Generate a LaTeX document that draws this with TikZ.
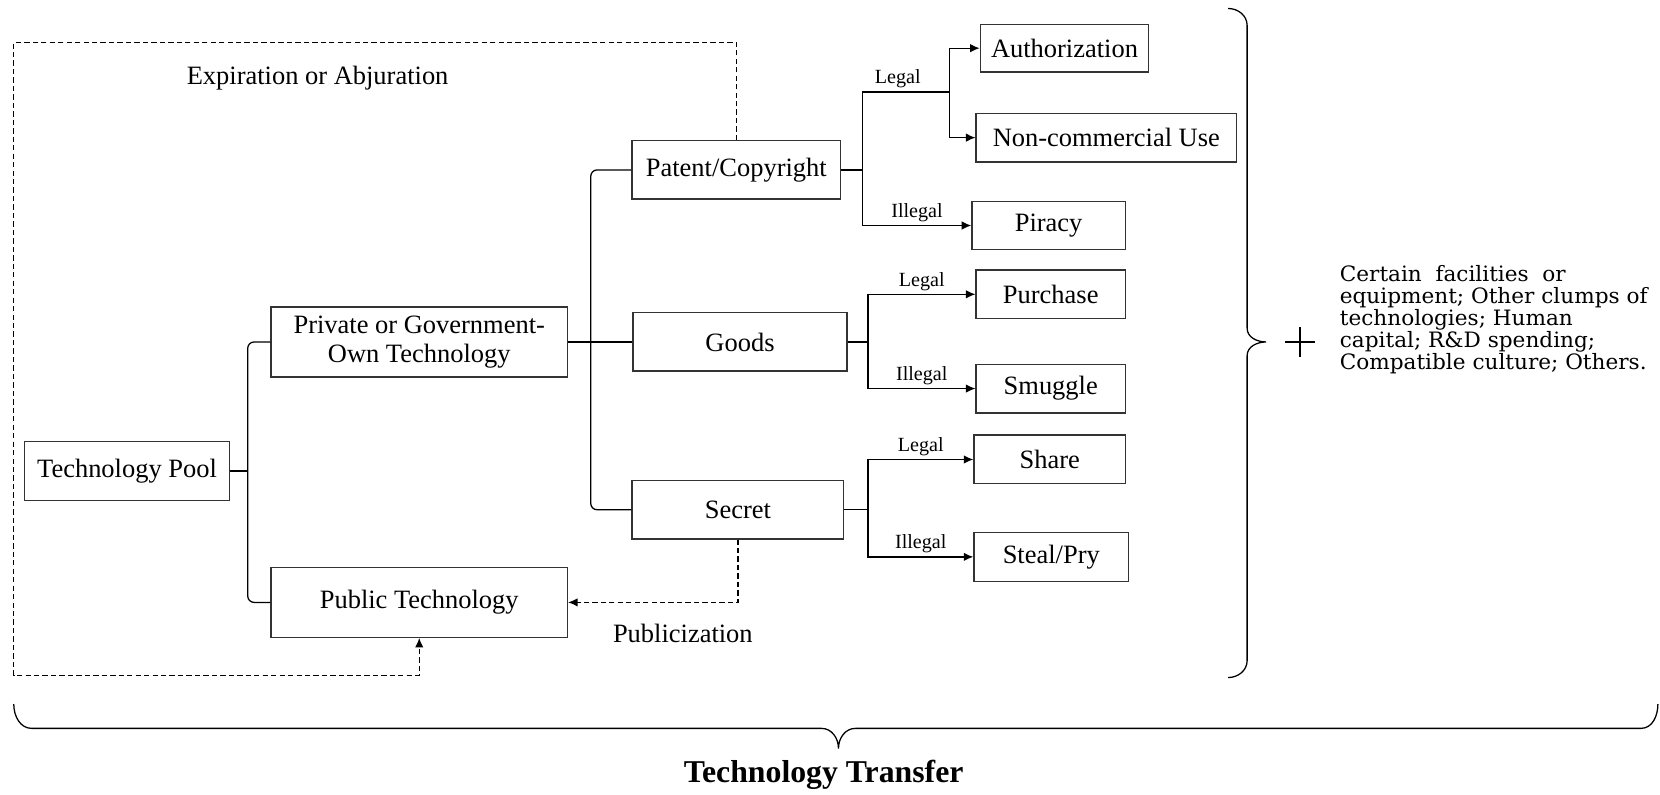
\documentclass[tikz,border=0pt]{standalone}
\usepackage{fontspec}
\setmainfont{Liberation Serif}
\newfontfamily\sidefont[FakeStretch=1.02]{DejaVu Serif}
\usetikzlibrary{arrows.meta}

\begin{document}
\begin{tikzpicture}[x=0.5pt,y=-0.5pt,>={Latex[length=4.5pt,width=4pt]},line width=0.6pt,
    box/.style={draw=black!80,inner sep=2pt,align=center,font=\fontsize{12.5}{14}\selectfont},
    big/.style={box,minimum height=27.5pt},
    small/.style={box,minimum height=23pt},
    lbl/.style={font=\fontsize{9.5}{11}\selectfont,inner sep=1.5pt},
    dashline/.style={dash pattern=on 2.5pt off 1.5pt}]

                \useasboundingbox (0,0) rectangle (1568,750);

                % boxes
                \node[box,minimum width=97pt,minimum height=28pt] (pool) at (120,445) {Technology Pool};
                \node[box,minimum width=140pt,minimum height=33pt] (priv) at (396,323) {Private or Government-\\Own Technology};
                \node[box,minimum width=140pt,minimum height=33pt] (pub) at (396,569) {Public Technology};
                \node[big,minimum width=98.5pt] (patent) at (695.5,160.5) {Patent/Copyright};
                \node[big,minimum width=101pt] (goods) at (699,323) {Goods};
                \node[big,minimum width=100pt] (secret) at (697,481.5) {Secret};
                \node[small,minimum width=79.5pt,minimum height=22.5pt] (auth) at (1005.5,45.5) {Authorization};
                \node[small,minimum width=123pt] (noncom) at (1045,130) {Non-commercial Use};
                \node[small,minimum width=72.5pt] (piracy) at (990.5,213) {Piracy};
                \node[small,minimum width=70.5pt] (purchase) at (992.5,278) {Purchase};
                \node[small,minimum width=70.5pt] (smuggle) at (992.5,367) {Smuggle};
                \node[small,minimum width=71.5pt] (share) at (991.5,434) {Share};
                \node[small,minimum width=73pt] (steal) at (993,526) {Steal/Pry};

                % forks
                \coordinate (fa) at (234,445);
                \draw (pool.east) -- (fa);
                \draw[rounded corners=3pt] (priv.west) -- (priv.west -| fa) -- (pub.west -| fa) -- (pub.west);

                \coordinate (fb) at (558,323);
                \draw (priv.east) -- (goods.west);
                \draw[rounded corners=3pt] (patent.west) -- (patent.west -| fb) -- (secret.west -| fb) -- (secret.west);

                \coordinate (fc) at (815,87);
                \coordinate (fd) at (897,87);
                \draw (patent.east) -- (patent.east -| fc);
                \draw (fc |- piracy.west) -- (fc) -- node[lbl,above,xshift=-4pt] (l1) {Legal} (fd);
                \draw[->] (fd) |- (auth.west);
                \draw[->] (fd) |- (noncom.west);
                \draw[->] (fc |- piracy.west) -- node[lbl,above] (i1) {Illegal} (piracy.west);

                \coordinate (fe) at (820,323);
                \draw (goods.east) -- (fe);
                \draw[->] (fe) |- node[lbl,above,pos=0.75] (l2) {Legal} (purchase.west);
                \draw[->] (fe) |- node[lbl,above,pos=0.75] (i2) {Illegal} (smuggle.west);

                \coordinate (ff) at (820,481.5);
                \draw (secret.east) -- (ff);
                \draw[->] (ff) |- node[lbl,above,pos=0.75] (l3) {Legal} (share.west);
                \draw[->] (ff) |- node[lbl,above,pos=0.75] (i3) {Illegal} (steal.west);

                % dashed returns
                \draw[dashline,->] (secret.south) |- (pub.east);
                \node[box,draw=none] (publbl) at (645,598) {Publicization};

                \coordinate (ea) at (13,40);
                \coordinate (eb) at (13,638);
                \draw[dashline,->] (patent.north) |- (ea) -- (eb) -| (pub.south);
                \node[box,draw=none] (explbl) at (300,74) {Expiration or Abjuration};

                % braces
                \draw (1160,8) to[out=0,in=90] (1178,24) -- (1178,310) to[out=-90,in=180] (1196,323)
                    to[out=180,in=90] (1178,336) -- (1178,624) to[out=-90,in=0] (1160,640);
                \draw (13,665) to[out=-90,in=180] (30,688) -- (776,688) to[out=0,in=90] (792,707)
                    to[out=90,in=180] (808,688) -- (1550,688) to[out=0,in=-90] (1566,665);
                \draw (1214,323) -- (1242,323) (1228,309) -- (1228,337);

                \node[anchor=west,align=left,inner sep=0pt,font=\sidefont\fontsize{10}{10.3}\selectfont] (side) at (1265,302)
                    {Certain\ \ facilities\ \ or\\equipment; Other clumps of\\technologies; Human\\capital; R\&D spending;\\Compatible culture; Others.};
                \node[font=\bfseries\fontsize{15}{18}\selectfont] (title) at (778,732) {Technology Transfer};
            \end{tikzpicture}
\end{document}
